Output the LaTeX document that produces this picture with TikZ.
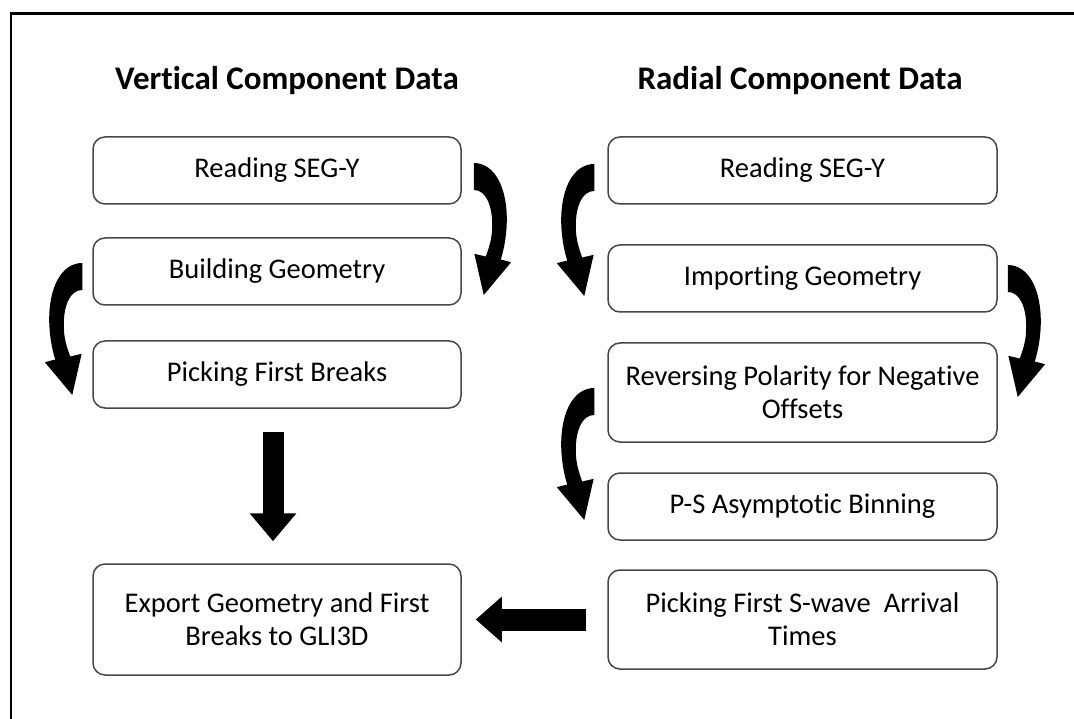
\documentclass[tikz,border=0pt]{standalone}
\usepackage{fontspec}
\setmainfont{Carlito}[Ligatures=NoCommon]
\usepackage{tikz}
\usetikzlibrary{arrows.meta}
\usetikzlibrary{positioning}
\definecolor{boxgray}{RGB}{70,70,70}
\tikzset{stepbox/.style={draw=boxgray, line width=1.5pt, rounded corners=12pt, inner sep=0pt, align=center, font=\fontsize{28.5}{33}\selectfont}}
\tikzset{leftbox/.style={stepbox, minimum width=368pt, minimum height=67pt}}
\tikzset{rightbox/.style={stepbox, minimum width=389pt, minimum height=67pt}}
\tikzset{colhead/.style={font=\bfseries\fontsize{33}{38}\selectfont}}
\tikzset{fatarrow/.style={draw=black}}
\tikzset{bendarrow/.pic={
\fill[xscale=#1] (0,0) .. controls (21,0) and (34,25) .. (33,60) .. controls (32.5,75) and (30,87) .. (27,96.5) -- (37.4,99.2) -- (10,132) -- (0.6,90.8) -- (12,93.5) .. controls (15.5,84) and (18.5,75) .. (18.5,62) .. controls (18.5,42) and (12,27) .. (0,27) -- cycle;
}}

\begin{document}
\begin{tikzpicture}[x=1pt,y=-1pt]
\useasboundingbox (0,0) rectangle (1074,719);
\draw[line width=2.5pt] (11,719) -- (11,13.5) -- (1074,13.5);
% column heads
\node[colhead] (vhead) at (287,81) {Vertical Component Data};
\node[colhead] (rhead) at (800,81) {Radial Component Data};
% vertical component
\node[leftbox] (vrd) at (277,170.5) {Reading SEG-Y};
\node[leftbox] (vbg) at (277,271.5) {Building Geometry};
\node[leftbox] (vpb) at (277,374.5) {Picking First Breaks};
\node[leftbox, minimum height=111pt] (vexp) at (277,619.5) {Export Geometry and First\\Breaks to GLI3D};
% radial component
\node[rightbox] (rrd) at (802.5,170.5) {Reading SEG-Y};
\node[rightbox] (rig) at (802.5,278.5) {Importing Geometry};
\node[rightbox, minimum height=99pt] (rrp) at (802.5,392.5) {Reversing Polarity for Negative\\Offsets};
\node[rightbox] (rps) at (802.5,506.5) {P-S Asymptotic Binning};
\node[rightbox, minimum height=99pt] (rsw) at (802.5,619.5) {Picking First S-wave~ Arrival\\Times};
% curved arrows
\pic at ([shift={(12,-7.5)}]vrd.east) {bendarrow=1};
\pic at ([shift={(-10,-8.5)}]vbg.west) {bendarrow=-1};
\pic at ([shift={(-13,-6.5)}]rrd.west) {bendarrow=-1};
\pic at ([shift={(10,-13.5)}]rig.east) {bendarrow=1};
\pic at ([shift={(-13,-4.5)}]rrp.west) {bendarrow=-1};
% straight arrows
\draw[fatarrow, line width=21pt, -{Triangle[length=28pt,width=45pt]}, shorten <=23pt, shorten >=22pt] ([xshift=-4pt]vpb.south) -- ([xshift=-4pt]vexp.north);
\draw[fatarrow, line width=22pt, -{Triangle[length=26pt,width=44pt]}, shorten <=21pt, shorten >=14pt] (rsw.west) -- (vexp.east);
\end{tikzpicture}
\end{document}
